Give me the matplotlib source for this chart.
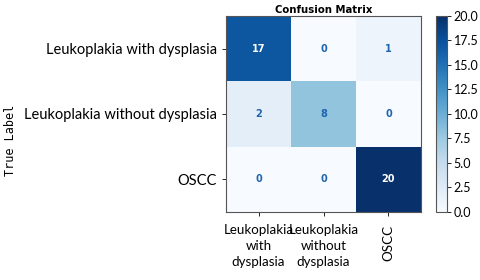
import matplotlib
matplotlib.use('Agg')
import matplotlib.pyplot as plt
import numpy as np

classes = ['Leukoplakia with dysplasia', 'Leukoplakia without dysplasia', 'OSCC']
x_labels = ['Leukoplakia\nwith\ndysplasia', 'Leukoplakia\nwithout\ndysplasia', 'OSCC']
cm = np.array([[17, 0, 1],
               [2, 8, 0],
               [0, 0, 20]])

plt.rcParams['font.family'] = ['Lato', 'DejaVu Sans']

fig = plt.figure(figsize=(4.8, 2.8), dpi=100)
ax = fig.add_axes([0.471, 0.243, 0.406, 0.700])
cax = fig.add_axes([0.908, 0.243, 0.023, 0.700])

im = ax.imshow(cm, cmap='Blues', vmin=0, vmax=20, aspect='auto')
cb = fig.colorbar(im, cax=cax)
cb.set_ticks(np.arange(0, 20.1, 2.5))
cb.ax.tick_params(labelsize=9, length=3, width=0.6, pad=2)
cb.outline.set_edgecolor('#555555')
cb.outline.set_linewidth(0.8)

for i in range(3):
    for j in range(3):
        color = 'white' if cm[i, j] > 12 else '#1f64ad'
        ax.text(j, i, str(cm[i, j]), ha='center', va='center',
                fontsize=7, fontweight='bold', color=color, family='DejaVu Sans')

ax.set_xticks(range(3))
ax.set_xticklabels(x_labels, fontsize=9.6, linespacing=1.4)
ax.set_yticks(range(3))
ax.set_yticklabels(classes, fontsize=10.5)
plt.setp(ax.get_xticklabels()[2], rotation=90)
ax.tick_params(length=3, width=0.6)
ax.tick_params(axis='x', pad=6)
for s in ax.spines.values():
    s.set_edgecolor('#555555')
    s.set_linewidth(0.8)

ax.set_title('Confusion Matrix', fontsize=7.3, fontweight='bold', pad=2, family='DejaVu Sans')
fig.text(0.022, 0.5, 'True Label', rotation=90, va='center', ha='center',
         fontsize=8.5, family='DejaVu Sans Mono')

plt.savefig('out.png', dpi=100)
